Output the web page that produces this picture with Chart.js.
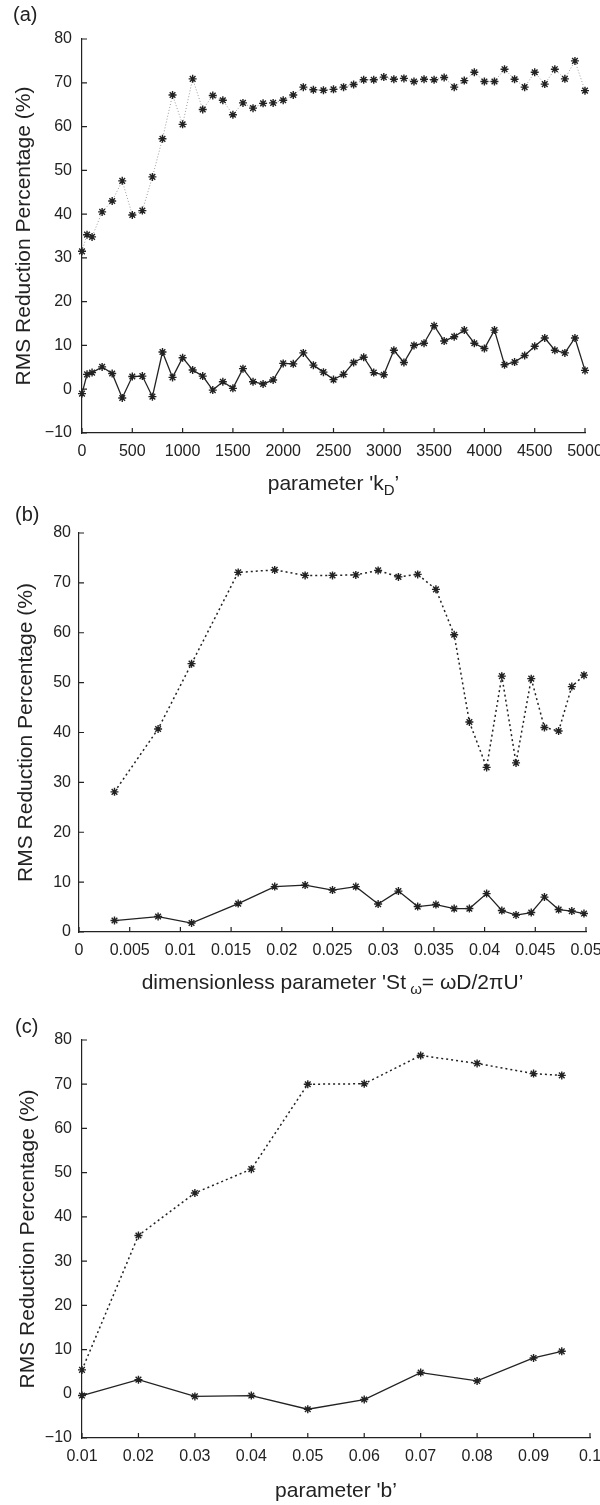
<!DOCTYPE html>
<html>
<head>
<meta charset="utf-8">
<title>RMS reduction percentage</title>
<script src="https://cdn.jsdelivr.net/npm/chart.js@4.4.1/dist/chart.umd.min.js"></script>
<style>
  body { margin: 0; background: #fff; }
  canvas { position: absolute; left: 0; }
</style>
</head>
<body>
<canvas id="chartA" width="600" height="505" style="top:0px"></canvas>
<canvas id="chartB" width="600" height="505" style="top:505px"></canvas>
<canvas id="chartC" width="600" height="495" style="top:1010px"></canvas>
<script>
// ---- data, panel (a) ----
const kD = [0, 50, 100, 200, 300, 400, 500, 600, 700, 800, 900, 1000, 1100, 1200, 1300, 1400, 1500,
  1600, 1700, 1800, 1900, 2000, 2100, 2200, 2300, 2400, 2500, 2600, 2700, 2800, 2900, 3000, 3100,
  3200, 3300, 3400, 3500, 3600, 3700, 3800, 3900, 4000, 4100, 4200, 4300, 4400, 4500, 4600, 4700,
  4800, 4900, 5000];
const rmsA_dotted = [31.5, 35.3, 34.8, 40.5, 43.0, 47.6, 39.8, 40.8, 48.5, 57.2, 67.2, 60.5, 70.9,
  63.9, 67.1, 66.0, 62.7, 65.4, 64.2, 65.3, 65.4, 66.0, 67.2, 69.0, 68.4, 68.3, 68.5, 69.0, 69.6,
  70.7, 70.7, 71.3, 70.8, 71.0, 70.3, 70.8, 70.7, 71.2, 69.0, 70.5, 72.4, 70.3, 70.3, 73.1, 70.8,
  69.0, 72.4, 69.7, 73.1, 70.9, 75.0, 68.2];
const rmsA_solid = [-1.0, 3.4, 3.8, 5.1, 3.6, -2.0, 2.9, 3.0, -1.7, 8.5, 2.7, 7.2, 4.4, 3.0, -0.2,
  1.7, 0.2, 4.7, 1.7, 1.2, 2.1, 5.9, 5.8, 8.3, 5.5, 3.9, 2.2, 3.4, 6.1, 7.3, 3.8, 3.3, 8.9, 6.1,
  10.0, 10.5, 14.5, 11.0, 12.0, 13.5, 10.5, 9.3, 13.5, 5.6, 6.2, 7.7, 9.8, 11.7, 8.9, 8.3, 11.7, 4.3];
const kDTicks = [0, 500, 1000, 1500, 2000, 2500, 3000, 3500, 4000, 4500, 5000];
const kDLabels = ['0', '500', '1000', '1500', '2000', '2500', '3000', '3500', '4000', '4500', '5000'];

// ---- data, panel (b) ----
const stOmega = [0.0035, 0.0078, 0.0111, 0.0157, 0.0193, 0.0223, 0.0250, 0.0273, 0.0295, 0.0315,
  0.0334, 0.0352, 0.0370, 0.0385, 0.0402, 0.0417, 0.0431, 0.0446, 0.0459, 0.0473, 0.0486, 0.0498];
const rmsB_dotted = [28.1, 40.7, 53.8, 72.1, 72.6, 71.5, 71.5, 71.6, 72.5, 71.2, 71.7, 68.7, 59.6,
  42.1, 33.0, 51.3, 33.9, 50.8, 41.0, 40.3, 49.2, 51.5];
const rmsB_solid = [2.3, 3.1, 1.8, 5.7, 9.1, 9.4, 8.4, 9.1, 5.6, 8.2, 5.1, 5.5, 4.7, 4.7, 7.7, 4.3,
  3.4, 3.9, 7.0, 4.5, 4.2, 3.7];
const stTicks = [0, 0.005, 0.01, 0.015, 0.02, 0.025, 0.03, 0.035, 0.04, 0.045, 0.05];
const stLabels = ['0', '0.005', '0.01', '0.015', '0.02', '0.025', '0.03', '0.035', '0.04', '0.045', '0.05'];

// ---- data, panel (c) ----
const bParam = [0.01, 0.02, 0.03, 0.04, 0.05, 0.06, 0.07, 0.08, 0.09, 0.095];
const rmsC_dotted = [5.4, 35.8, 45.4, 50.8, 70.0, 70.1, 76.5, 74.7, 72.4, 72.0];
const rmsC_solid = [-0.4, 3.2, -0.6, -0.4, -3.5, -1.3, 4.8, 2.9, 8.1, 9.6];
const bTicks = [0.01, 0.02, 0.03, 0.04, 0.05, 0.06, 0.07, 0.08, 0.09, 0.1];
const bLabels = ['0.01', '0.02', '0.03', '0.04', '0.05', '0.06', '0.07', '0.08', '0.09', '0.1'];

// ---- y ticks ----
const rmsTicks = [-10, 0, 10, 20, 30, 40, 50, 60, 70, 80];
const rmsLabels = ['\u221210', '0', '10', '20', '30', '40', '50', '60', '70', '80'];
const rmsTicksB = [0, 10, 20, 30, 40, 50, 60, 70, 80];
const rmsLabelsB = ['0', '10', '20', '30', '40', '50', '60', '70', '80'];

const FONT = '"Liberation Sans", Arial, Helvetica, sans-serif';
const INK = '#222';
const TITLE_SIZE = 21;
const TICK_SIZE = 16;

function pairs(xs, ys) {
  return xs.map((x, i) => ({ x: x, y: ys[i] }));
}

// MATLAB-style ticks pointing into the plot
const innerTicks = {
  id: 'innerTicks',
  afterDraw(chart) {
    const { ctx, chartArea } = chart;
    const sx = chart.scales.x, sy = chart.scales.y;
    ctx.save();
    ctx.strokeStyle = INK;
    ctx.lineWidth = 1.2;
    ctx.beginPath();
    sx.ticks.forEach(t => {
      const px = sx.getPixelForValue(t.value);
      ctx.moveTo(px, chartArea.bottom);
      ctx.lineTo(px, chartArea.bottom - 5);
    });
    sy.ticks.forEach(t => {
      const py = sy.getPixelForValue(t.value);
      ctx.moveTo(chartArea.left, py);
      ctx.lineTo(chartArea.left + 5, py);
    });
    ctx.stroke();
    ctx.restore();
  }
};

// x axis title with subscripts
const richXLabel = {
  id: 'richXLabel',
  afterDraw(chart, args, opts) {
    const { ctx, chartArea } = chart;
    ctx.save();
    ctx.fillStyle = INK;
    ctx.textBaseline = 'alphabetic';
    ctx.textAlign = 'left';
    let total = 0;
    const widths = opts.parts.map(p => {
      ctx.font = (p.sub ? 15 : TITLE_SIZE) + 'px ' + FONT;
      const w = ctx.measureText(p.text).width;
      total += w;
      return w;
    });
    let x = (chartArea.left + chartArea.right) / 2 - total / 2;
    const y = chartArea.bottom + opts.offset;
    opts.parts.forEach((p, i) => {
      ctx.font = (p.sub ? 15 : TITLE_SIZE) + 'px ' + FONT;
      ctx.fillText(p.text, x, y + (p.sub ? 5 : 0));
      x += widths[i];
    });
    ctx.restore();
  }
};

function makePanel(id, p) {
  const dotted = {
    data: pairs(p.xs, p.dotted),
    borderColor: p.dotColor,
    borderWidth: p.dotWidth,
    borderDash: p.dash,
    pointStyle: 'star',
    pointRadius: 4,
    pointBorderColor: INK,
    pointBorderWidth: 1.4,
    pointBackgroundColor: INK,
    fill: false,
    tension: 0,
    clip: false
  };
  const solid = {
    data: pairs(p.xs, p.solid),
    borderColor: INK,
    borderWidth: 1.3,
    pointStyle: 'star',
    pointRadius: 4,
    pointBorderColor: INK,
    pointBorderWidth: 1.4,
    fill: false,
    tension: 0,
    clip: false
  };
  return new Chart(document.getElementById(id), {
    type: 'line',
    data: { datasets: [dotted, solid] },
    plugins: [innerTicks, richXLabel],
    options: {
      responsive: false,
      animation: false,
      events: [],
      layout: { padding: { left: p.padLeft, right: p.padRight, top: 0, bottom: 0 } },
      plugins: {
        legend: { display: false },
        tooltip: { enabled: false },
        title: {
          display: true,
          text: p.panel,
          align: 'start',
          color: INK,
          font: { family: FONT, size: 20, weight: 'normal', lineHeight: 1 },
          padding: { top: p.titleTop, bottom: p.titleBottom }
        },
        richXLabel: { parts: p.xTitle, offset: p.xTitleOffset }
      },
      scales: {
        x: {
          type: 'linear',
          min: p.xMin,
          max: p.xMax,
          grid: { display: false, drawTicks: false },
          border: { display: true, color: INK, width: 1.2 },
          ticks: {
            color: INK,
            padding: 9,
            maxRotation: 0,
            autoSkip: false,
            font: { family: FONT, size: TICK_SIZE },
            callback: (v, i) => p.xLabels[i]
          },
          afterBuildTicks: s => { s.ticks = p.xTicks.map(v => ({ value: v })); },
          afterFit: s => { s.height = p.xHeight; s.paddingLeft = 0; s.paddingRight = 0; }
        },
        y: {
          type: 'linear',
          min: p.yMin,
          max: 80,
          grid: { display: false, drawTicks: false },
          border: { display: true, color: INK, width: 1.2 },
          title: {
            display: true,
            text: 'RMS Reduction Percentage (%)',
            color: INK,
            font: { family: FONT, size: TITLE_SIZE, lineHeight: 1 },
            padding: { top: p.yTitlePad, bottom: 0 }
          },
          ticks: {
            color: INK,
            padding: p.yTickPad,
            autoSkip: false,
            font: { family: FONT, size: TICK_SIZE },
            callback: (v, i) => p.yLabels[i]
          },
          afterBuildTicks: s => { s.ticks = p.yTicks.map(v => ({ value: v })); },
          afterFit: s => { s.width = p.yWidth; s.paddingTop = 0; s.paddingBottom = 0; }
        }
      }
    }
  });
}

makePanel('chartA', {
  panel: '(a)', xs: kD, dotted: rmsA_dotted, solid: rmsA_solid,
  dotColor: '#9a9a9a', dotWidth: 1, dash: [1, 2],
  xMin: 0, xMax: 5000, xTicks: kDTicks, xLabels: kDLabels,
  yMin: -10, yTicks: rmsTicks, yLabels: rmsLabels,
  padLeft: 13, padRight: 15, yWidth: 69, xHeight: 72,
  titleTop: 5, titleBottom: 14, yTitlePad: 1, yTickPad: 10,
  xTitle: [{ text: "parameter 'k" }, { text: 'D', sub: true }, { text: '\u2019' }],
  xTitleOffset: 57
});

makePanel('chartB', {
  panel: '(b)', xs: stOmega, dotted: rmsB_dotted, solid: rmsB_solid,
  dotColor: '#222', dotWidth: 1.5, dash: [2, 3],
  xMin: 0, xMax: 0.05, xTicks: stTicks, xLabels: stLabels,
  yMin: 0, yTicks: rmsTicksB, yLabels: rmsLabelsB,
  padLeft: 15, padRight: 14, yWidth: 64, xHeight: 78,
  titleTop: 0, titleBottom: 8, yTitlePad: 1, yTickPad: 8,
  xTitle: [{ text: "dimensionless parameter 'St" }, { text: ' \u03c9', sub: true },
    { text: '= \u03c9D/2\u03c0U\u2019' }],
  xTitleOffset: 57
});

makePanel('chartC', {
  panel: '(c)', xs: bParam, dotted: rmsC_dotted, solid: rmsC_solid,
  dotColor: '#222', dotWidth: 1.5, dash: [2, 3],
  xMin: 0.01, xMax: 0.1, xTicks: bTicks, xLabels: bLabels,
  yMin: -10, yTicks: rmsTicks, yLabels: rmsLabels,
  padLeft: 15, padRight: 10, yWidth: 67, xHeight: 67,
  titleTop: 7, titleBottom: 3, yTitlePad: 3, yTickPad: 10,
  xTitle: [{ text: "parameter 'b\u2019" }],
  xTitleOffset: 59
});
</script>
</body>
</html>
